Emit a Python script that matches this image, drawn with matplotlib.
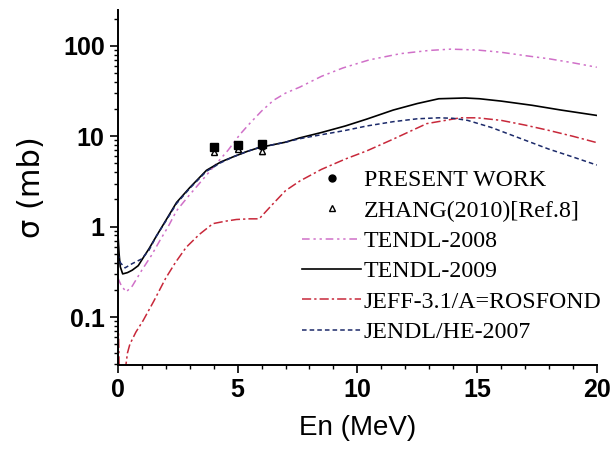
import matplotlib.pyplot as plt
from matplotlib.lines import Line2D
from matplotlib.ticker import LogLocator, MultipleLocator, FixedLocator

# measured points
en_exp = [4.0, 5.0, 6.0]
sig_present = [7.6, 8.1, 8.2]
err_present = [0.5, 0.5, 0.5]
sig_zhang = [6.7, 7.3, 6.8]
err_zhang = [0.4, 0.4, 0.4]

# evaluated libraries
en_t08 = [0.0, 0.15, 0.35, 0.6, 1.0, 1.4, 1.75, 2.1, 2.45, 2.9, 3.4, 4.0, 4.6, 5.1, 5.5, 6.0, 6.5, 7.0, 7.6, 8.5, 9.4, 10.5, 11.8, 13.0, 13.9, 15.0, 16.0, 17.0, 18.0, 19.0, 20.0]
sig_t08 = [0.27, 0.22, 0.19, 0.22, 0.33, 0.48, 0.70, 1.0, 1.5, 2.1, 3.0, 4.6, 7.0, 10.5, 13.8, 19, 25, 30, 35, 46, 57, 70, 82, 89, 92, 90, 85, 78, 72, 65, 58]

en_t09 = [0.0, 0.05, 0.1, 0.2, 0.4, 0.6, 0.85, 1.05, 1.3, 1.6, 2.0, 2.45, 3.0, 3.7, 4.3, 4.8, 5.4, 5.9, 7.0, 7.6, 8.5, 9.5, 10.4, 11.5, 12.5, 13.4, 14.5, 15.1, 16.0, 17.3, 18.5, 20.0]
sig_t09 = [0.84, 0.5, 0.36, 0.30, 0.31, 0.33, 0.37, 0.45, 0.57, 0.78, 1.17, 1.85, 2.7, 4.2, 5.2, 5.9, 6.8, 7.5, 8.6, 9.6, 11.0, 13.0, 15.5, 19.5, 23, 26, 26.5, 26, 24.5, 22, 19.5, 17]

en_jeff = [0.0, 0.03, 0.06, 0.3, 0.4, 0.5, 0.75, 1.05, 1.5, 2.0, 2.4, 2.85, 3.4, 3.97, 4.5, 4.95, 5.5, 5.9, 6.4, 7.0, 7.6, 8.5, 9.5, 10.4, 11.5, 12.9, 14.3, 15.0, 16.0, 17.0, 18.0, 19.0, 20.0]
sig_jeff = [0.09, 0.06, 0.02, 0.025, 0.04, 0.05, 0.068, 0.091, 0.15, 0.27, 0.40, 0.59, 0.82, 1.08, 1.15, 1.2, 1.22, 1.22, 1.7, 2.5, 3.2, 4.3, 5.6, 6.9, 9.3, 13.8, 16, 16, 15, 13.3, 11.6, 10, 8.5]

en_jendl = [0.0, 0.05, 0.1, 0.3, 0.6, 1.0, 1.3, 1.6, 2.0, 2.45, 3.0, 3.7, 4.3, 4.8, 5.4, 5.9, 7.0, 7.6, 8.5, 9.5, 10.4, 11.5, 12.5, 13.4, 14.0, 14.6, 15.6, 16.7, 18.0, 19.0, 20.0]
sig_jendl = [0.5, 0.45, 0.40, 0.35, 0.39, 0.44, 0.55, 0.78, 1.15, 1.8, 2.65, 4.1, 5.1, 5.9, 6.8, 7.5, 8.6, 9.4, 10.4, 11.6, 13, 14.5, 15.6, 16, 15.8, 15, 12.5, 9.7, 7.2, 5.9, 4.8]

legend_labels = ["PRESENT WORK", "ZHANG(2010)[Ref.8]", "TENDL-2008", "TENDL-2009",
                 "JEFF-3.1/A=ROSFOND", "JENDL/HE-2007"]

c_t08 = "#d070c8"
c_t09 = "black"
c_jeff = "#c8283a"
c_jendl = "#1c2a6a"

fig = plt.figure(figsize=(6.14, 4.5), dpi=100)
ax = fig.add_axes([0.192, 0.189, 0.780, 0.789])

ax.plot(en_t08, sig_t08, color=c_t08, lw=1.1, dashes=[5, 2.5, 1.5, 2.5, 1.5, 2.5])
ax.plot(en_t09, sig_t09, color=c_t09, lw=1.2)
ax.plot(en_jeff, sig_jeff, color=c_jeff, lw=1.1, dashes=[6, 2, 1.5, 2])
ax.plot(en_jendl, sig_jendl, color=c_jendl, lw=1.1, dashes=[3, 2])

ax.errorbar(en_exp, sig_zhang, yerr=err_zhang, fmt="^", ms=5, mfc="white", mec="black",
            ecolor="black", elinewidth=1, capsize=2.5, zorder=5)
ax.errorbar(en_exp, sig_present, yerr=err_present, fmt="s", ms=5.5, color="black",
            elinewidth=1, capsize=2.5, zorder=6)

ax.set_yscale("log")
ax.set_xlim(0, 20)
ax.set_ylim(0.0295, 250)

for side in ("top", "right"):
    ax.spines[side].set_visible(False)
for side in ("left", "bottom"):
    ax.spines[side].set_linewidth(1.4)

ax.xaxis.set_major_locator(MultipleLocator(5))
ax.xaxis.set_minor_locator(MultipleLocator(1))
ax.yaxis.set_major_locator(FixedLocator([0.1, 1, 10, 100]))
ax.yaxis.set_minor_locator(LogLocator(base=10, subs=range(2, 10), numticks=20))
ax.set_yticklabels(["0.1", "1", "10", "100"])
ax.tick_params(which="major", direction="out", length=6, width=1.2)
ax.tick_params(which="minor", direction="out", length=3, width=1.0)
ax.yaxis.set_minor_formatter(plt.NullFormatter())

for lab in ax.get_xticklabels() + ax.get_yticklabels():
    lab.set_fontfamily("Liberation Sans")
    lab.set_fontweight("bold")
    lab.set_fontsize(18)

ax.set_xlabel("En (MeV)", fontsize=20, fontfamily="Liberation Sans", labelpad=9)
ax.set_ylabel("σ (mb)", fontsize=22, fontfamily="DejaVu Sans", labelpad=12)

handles = [
    Line2D([], [], ls="none", marker="o", ms=5, color="black"),
    Line2D([], [], ls="none", marker="^", ms=5, mfc="white", mec="black"),
    Line2D([], [], color=c_t08, lw=1.1, dashes=[5, 2.5, 1.5, 2.5, 1.5, 2.5]),
    Line2D([], [], color=c_t09, lw=1.2),
    Line2D([], [], color=c_jeff, lw=1.1, dashes=[6, 2, 1.5, 2]),
    Line2D([], [], color=c_jendl, lw=1.1, dashes=[3, 2]),
]
ax.legend(handles, legend_labels, loc="lower right", bbox_to_anchor=(1.03, 0.035),
          frameon=False, prop={"family": "Liberation Serif", "size": 17.2},
          handlelength=2.5, handletextpad=0.1, labelspacing=0.36, borderaxespad=0)

fig.savefig("out.png", dpi=100)
